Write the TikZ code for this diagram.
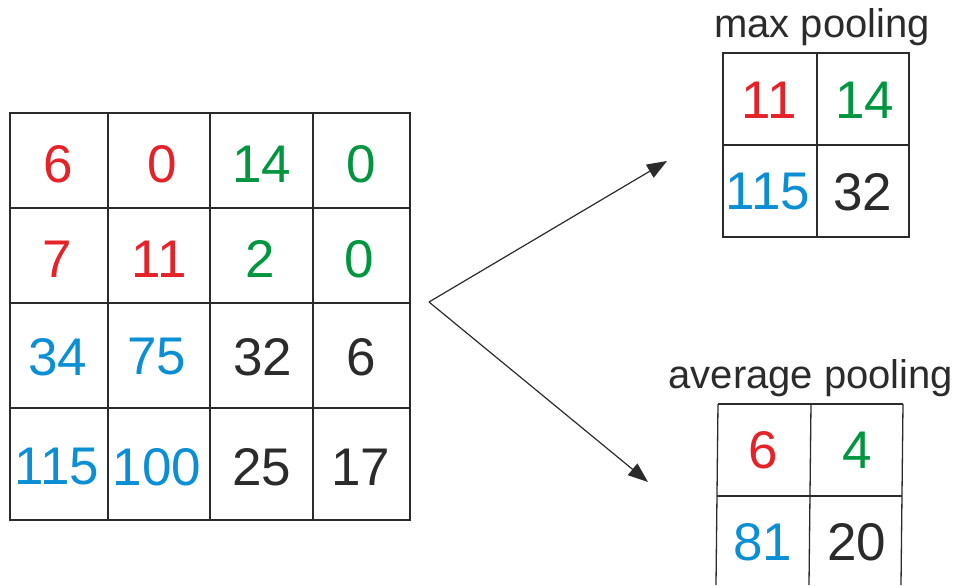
\documentclass[tikz,border=0pt]{standalone}
\usepackage{fontspec}
\setmainfont{Liberation Sans}
\usepackage{tikz}
\usetikzlibrary{arrows.meta}

\definecolor{cred}{HTML}{E52228}
\definecolor{cgreen}{HTML}{00963F}
\definecolor{cblue}{HTML}{0A8FD5}
\definecolor{cdark}{HTML}{2B2B2B}

\begin{document}
\begin{tikzpicture}
	[
		x=0.5pt, y=-0.5pt,
		L/.style = {draw=cdark, line width=0.65pt},
		A/.style = {draw=cdark, line width=0.6pt, -{Triangle[length=10pt,width=7.5pt]}},
		N/.style = {inner sep=0pt, font=\fontsize{26.5}{30}\selectfont},
		R/.style = {N, text=cred},
		G/.style = {N, text=cgreen},
		B/.style = {N, text=cblue},
		K/.style = {N, text=cdark},
		T/.style = {inner sep=0pt, anchor=base, text=cdark, font=\fontsize{20}{24}\selectfont},
	]
	\useasboundingbox (0,0) rectangle (960,585);

	% input grid
	\draw[L] (10,113) rectangle (410,520);
	\foreach \x in {108,210,313}
	\draw[L] (\x,113) -- (\x,520);
	\foreach \y in {208,303,408}
	\draw[L] (10,\y) -- (410,\y);

	\node[R] (i11) 	at ( 58, 164) {6};
	\node[R] (i12) 	at (162, 164) {0};
	\node[G] (i13) 	at (262, 164) {14};
	\node[G] (i14) 	at (361, 164) {0};
	\node[R] (i21) 	at ( 57, 259) {7};
	\node[R] (i22) 	at (159, 259) {11};
	\node[G] (i23) 	at (260, 259) {2};
	\node[G] (i24) 	at (359, 259) {0};
	\node[B] (i31) 	at ( 58, 357) {34};
	\node[B] (i32) 	at (157, 357) {75};
	\node[K] (i33) 	at (263, 357) {32};
	\node[K] (i34) 	at (361, 357) {6};
	\node[B] (i41) 	at ( 57, 467) {115};
	\node[B] (i42) 	at (157, 467) {100};
	\node[K] (i43) 	at (262, 467) {25};
	\node[K] (i44) 	at (361, 467) {17};

	% max pooling
	\node[T] (lmax) 	at (822, 37) {max pooling};
	\draw[L] (723,53) rectangle (909,237);
	\draw[L] (817,53) -- (817,237);
	\draw[L] (723,145) -- (909,145);

	\node[R] (m11) 	at (769, 100) {11};
	\node[G] (m12) 	at (865, 100) {14};
	\node[B] (m21) 	at (768, 192) {115};
	\node[K] (m22) 	at (863, 192) {32};

	% average pooling
	\node[T] (lavg) 	at (811, 388) {average pooling};
	\draw[L] (718,404) -- (903,404);
	\draw[L] (717,496) -- (902,496);
	\foreach \x in {718,811,903}
	\draw[L] (\x,404) -- (\x-2,585);

	\node[R] (a11) 	at (763, 450) {6};
	\node[G] (a12) 	at (857, 450) {4};
	\node[B] (a21) 	at (763, 542) {81};
	\node[K] (a22) 	at (857, 542) {20};

	% arrows
	\coordinate (fork) 	at (429, 302);
	\coordinate (tomax) 	at (667, 161);
	\coordinate (toavg) 	at (648, 482);
	\foreach \to in {tomax,toavg}
	\draw[A] (fork) -- (\to);

\end{tikzpicture}
\end{document}
